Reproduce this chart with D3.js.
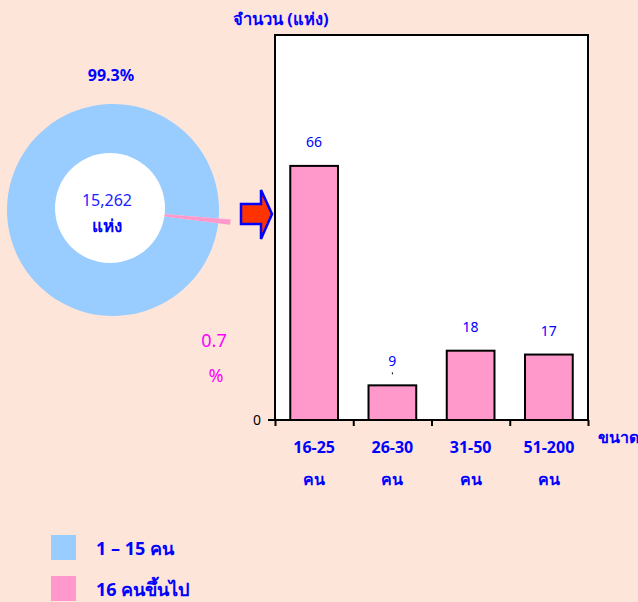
<!DOCTYPE html>
<html><head><meta charset="utf-8">
<script src="https://cdn.jsdelivr.net/npm/d3@7"></script>
<style>
html,body{margin:0;padding:0;background:#fde5da;}
text{font-family:Tahoma,"Noto Sans","DejaVu Sans",sans-serif;}
</style></head>
<body>
<svg id="c" width="638" height="602"></svg>
<script>
const categories = ["16-25", "26-30", "31-50", "51-200"];
const categoryUnit = "คน";
const values = [66, 9, 18, 17];
const yTicks = [0];
const pieLabels = ["1 – 15 คน", "16 คนขึ้นไป"];
const pieValues = [99.3, 0.7];
const pieTotal = "15,262";
const pieUnit = "แห่ง";
const yTitle = "จำนวน (แห่ง)";
const xTitle = "ขนาด";

const BLUE = "#99ccff", PINK = "#ff99cc", TXT = "#0000ff", MAG = "#ff00ff";
const svg = d3.select("#c");

// ---- bar chart ----
const x0 = 275, x1 = 588, yTop = 35, yBot = 420;
const x = d3.scaleBand().domain(categories).range([x0, x1]).paddingInner(0.39).paddingOuter(0.195);
const y = d3.scaleLinear().domain([0, 100]).range([yBot, yTop]);

svg.append("rect").attr("x", x0).attr("y", yTop).attr("width", x1 - x0).attr("height", yBot - yTop)
  .attr("fill", "#fff").attr("stroke", "#000").attr("stroke-width", 2);

svg.selectAll("rect.bar").data(values).join("rect").attr("class", "bar")
  .attr("x", (d, i) => x(categories[i])).attr("y", d => y(d))
  .attr("width", x.bandwidth()).attr("height", d => y(0) - y(d))
  .attr("fill", PINK).attr("stroke", "#000").attr("stroke-width", 2);

svg.selectAll("text.val").data(values).join("text").attr("class", "val")
  .attr("x", (d, i) => x(categories[i]) + x.bandwidth() / 2).attr("y", d => y(d) - 19)
  .attr("text-anchor", "middle").attr("fill", TXT).attr("font-size", 14).text(d => d);
// small leader for the smallest bar
svg.append("line").attr("x1", x(categories[1]) + x.bandwidth() / 2).attr("x2", x(categories[1]) + x.bandwidth() / 2)
  .attr("y1", y(values[1]) - 13).attr("y2", y(values[1]) - 11).attr("stroke", "#000").attr("stroke-width", 1);

// x axis
const xb = d3.scaleLinear().domain([0, categories.length]).range([x0, x1]);
const ax = svg.append("g").attr("transform", `translate(0,${yBot})`)
  .call(d3.axisBottom(xb).tickValues(d3.range(categories.length + 1)).tickSize(6).tickFormat(""));
ax.select(".domain").attr("stroke", "#000").attr("stroke-width", 2).attr("d", `M${x0 - 7},0H${x1}`);
ax.selectAll(".tick line").attr("stroke", "#000").attr("stroke-width", 2);

// y axis
const ay = svg.append("g").attr("transform", `translate(${x0},0)`)
  .call(d3.axisLeft(y).tickValues(yTicks).tickSize(0).tickPadding(14));
ay.select(".domain").remove();
ay.selectAll(".tick text").attr("font-size", 14).attr("fill", "#000").attr("font-family", "Tahoma,'DejaVu Sans',sans-serif");

// category labels
const cl = svg.selectAll("g.cl").data(categories).join("g").attr("class", "cl")
  .attr("transform", d => `translate(${x(d) + x.bandwidth() / 2},0)`);
cl.append("text").attr("y", 453).attr("text-anchor", "middle").attr("fill", TXT)
  .attr("font-size", 16).attr("font-weight", "bold").text(d => d);
cl.append("text").attr("y", 485).attr("text-anchor", "middle").attr("fill", TXT)
  .attr("font-size", 16).attr("font-weight", "bold").text(categoryUnit);

svg.append("text").attr("x", 598).attr("y", 443).attr("fill", TXT).attr("font-size", 16)
  .attr("font-weight", "bold").text(xTitle);
svg.append("text").attr("x", 233).attr("y", 25).attr("fill", TXT).attr("font-size", 16.5)
  .attr("font-weight", "bold").text(yTitle);

// ---- donut ----
const cx = 113, cy = 210;
const a0 = (96 - 1.4) * Math.PI / 180;
const pie = d3.pie().sort(null).startAngle(a0).endAngle(a0 + 2 * Math.PI);
const arcs = pie([pieValues[1], pieValues[0]]);
const g = svg.append("g").attr("transform", `translate(${cx},${cy})`);
g.append("path").attr("d", d3.arc().innerRadius(50).outerRadius(106)(arcs[1])).attr("fill", BLUE);
g.append("path").attr("d", d3.arc().innerRadius(50).outerRadius(118).padAngle(-0.005)(arcs[0])).attr("fill", PINK);
g.append("circle").attr("cx", -3).attr("cy", -2).attr("r", 55).attr("fill", "#fff");

svg.append("text").attr("x", 107).attr("y", 206).attr("text-anchor", "middle").attr("fill", "#2222ff")
  .attr("font-size", 16).text(pieTotal);
svg.append("text").attr("x", 107).attr("y", 232).attr("text-anchor", "middle").attr("fill", TXT)
  .attr("font-size", 17).attr("font-weight", "bold").text(pieUnit);
svg.append("text").attr("x", 111).attr("y", 81).attr("text-anchor", "middle").attr("fill", TXT)
  .attr("font-size", 16).attr("font-weight", "bold").text(d3.format(".1f")(pieValues[0]) + "%");
svg.append("text").attr("x", 214).attr("y", 347).attr("text-anchor", "middle").attr("fill", MAG)
  .attr("font-size", 18).text(d3.format(".1f")(pieValues[1]));
svg.append("text").attr("x", 216).attr("y", 382).attr("text-anchor", "middle").attr("fill", MAG)
  .attr("font-size", 18).text("%");

// arrow
svg.append("path")
  .attr("d", "M241,204 H261 V190 L272,214 L261,239 V224 H241 Z")
  .attr("fill", "#ff3300").attr("stroke", "#0000ff").attr("stroke-width", 2.5).attr("stroke-linejoin", "miter");

// legend
const lg = svg.selectAll("g.lg").data(pieLabels).join("g").attr("class", "lg")
  .attr("transform", (d, i) => `translate(51,${535 + i * 41})`);
lg.append("rect").attr("width", 25).attr("height", 25).attr("fill", (d, i) => i === 0 ? BLUE : PINK);
lg.append("text").attr("x", 45).attr("y", 20).attr("fill", TXT).attr("font-size", 18)
  .attr("font-weight", "bold").text(d => d);
</script>
</body></html>
